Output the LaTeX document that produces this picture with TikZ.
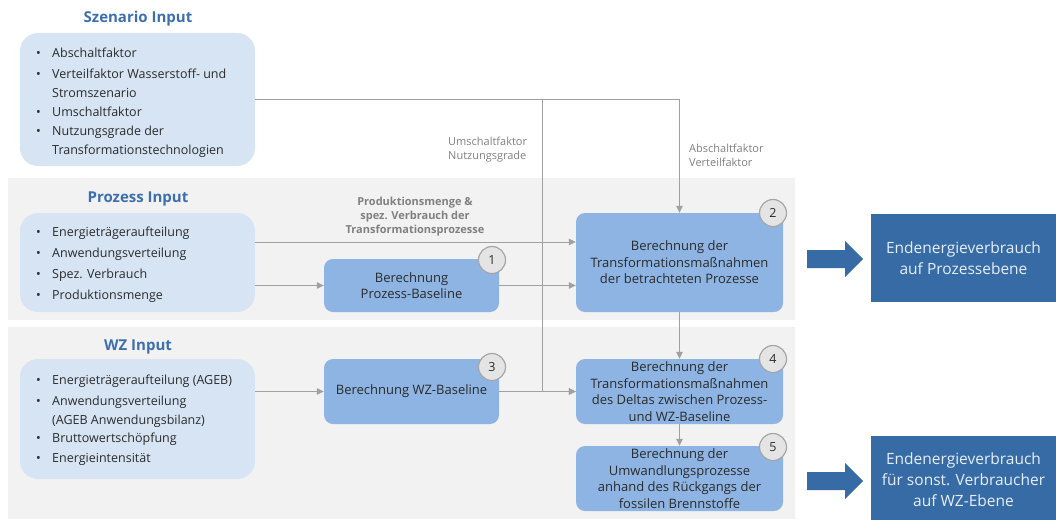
\documentclass[tikz,border=0pt]{standalone}
\usepackage{fontspec}
\setmainfont{Open Sans}
\usetikzlibrary{arrows.meta}
\definecolor{band}{HTML}{F2F2F2}
\definecolor{inbox}{HTML}{D6E4F4}
\definecolor{calc}{HTML}{8DB4E2}
\definecolor{outbox}{HTML}{376BA6}
\definecolor{titlec}{HTML}{3B6FAE}
\definecolor{conn}{HTML}{A0A0A0}
\definecolor{lbl}{HTML}{808080}
\definecolor{txt}{HTML}{2B2B2B}
\definecolor{circf}{HTML}{E4E4E4}
\definecolor{circd}{HTML}{A6A6A6}
\definecolor{outtxt}{HTML}{E6EEF8}
\newcommand\bul[1]{\makebox[16pt][l]{\textbullet}\parbox[t]{200pt}{#1}}
\begin{document}
\begin{tikzpicture}[x=1pt,y=-1pt,
  inputbox/.style={fill=inbox,rounded corners=18pt,inner sep=0pt},
  calcbox/.style={fill=calc,rounded corners=9pt,inner sep=0pt,align=center,text=txt,
     font=\fontsize{13}{16.5}\selectfont},
  outnode/.style={fill=outbox,inner sep=0pt,align=center,text=outtxt,
     font=\fontsize{15.5}{21}\selectfont},
  numc/.style={circle,fill=circf,draw=circd,line width=1.2pt,minimum size=27pt,inner sep=0pt,
     text=txt,font=\fontsize{12.5}{14}\selectfont},
  grouptitle/.style={text=titlec,font=\fontsize{15}{18}\selectfont\bfseries},
  item/.style={anchor=base west,inner sep=0pt,align=left,text=txt,
     font=\fontsize{12.5}{19}\selectfont},
  lab/.style={inner sep=0pt,text=lbl,font=\fontsize{11}{14}\selectfont},
  conn/.style={draw=conn,line width=1pt,-{Triangle[length=7pt,width=6.5pt]}},
  bigarrow/.style={fill=outbox}]
\useasboundingbox (0,0) rectangle (1056,519);
% bands
\fill[band] (8,178) rectangle (795,320);
\fill[band] (8,327) rectangle (795,519);
% input boxes
\node[inputbox,minimum width=235pt,minimum height=133pt] (szbox) at (137.5,99.5) {};
\node[inputbox,minimum width=235pt,minimum height=99pt] (prbox) at (137.5,262.5) {};
\node[inputbox,minimum width=235pt,minimum height=120pt] (wzbox) at (137.5,419) {};
% titles
\node[grouptitle] (szt) at (138,18.5) {Szenario Input};
\node[grouptitle] (prt) at (138,198.5) {Prozess Input};
\node[grouptitle] (wzt) at (138,346.5) {WZ Input};
% items
\node[item] (sz1) at (36,57) {\bul{Abschaltfaktor}};
\node[item] (sz2) at (36,78) {\bul{Verteilfaktor Wasserstoff- und\\Stromszenario}};
\node[item] (sz3) at (36,116) {\bul{Umschaltfaktor}};
\node[item] (sz4) at (36,135) {\bul{Nutzungsgrade der\\Transformationstechnologien}};
\node[item] (pr1) at (36,236) {\bul{Energieträgeraufteilung}};
\node[item] (pr2) at (36,257) {\bul{Anwendungsverteilung}};
\node[item] (pr3) at (36,278) {\bul{Spez. Verbrauch}};
\node[item] (pr4) at (36,299) {\bul{Produktionsmenge}};
\node[item] (wz1) at (36,384) {\bul{Energieträgeraufteilung (AGEB)}};
\node[item] (wz2) at (36,405) {\bul{Anwendungsverteilung\\(AGEB Anwendungsbilanz)}};
\node[item] (wz3) at (36,442) {\bul{Bruttowertschöpfung}};
\node[item] (wz4) at (36,462) {\bul{Energieintensität}};
% calculation boxes
\node[calcbox,minimum width=175pt,minimum height=53pt] (box1) at (411.5,285.5) {Berechnung\\Prozess-Baseline};
\node[calcbox,minimum width=207pt,minimum height=99pt] (box2) at (679.5,262.5) {Berechnung der\\Transformationsmaßnahmen\\der betrachteten Prozesse};
\node[calcbox,minimum width=175pt,minimum height=65pt] (box3) at (411.5,391.5) {Berechnung WZ-Baseline};
\node[calcbox,minimum width=207pt,minimum height=65pt] (box4) at (679.5,391.5) {Berechnung der\\Transformationsmaßnahmen\\des Deltas zwischen Prozess-\\und WZ-Baseline};
\node[calcbox,minimum width=207pt,minimum height=65pt] (box5) at (679.5,478.5) {Berechnung der\\Umwandlungsprozesse\\anhand des Rückgangs der\\fossilen Brennstoffe};
% number circles
\node[numc] (c1) at (492,260) {1};
\node[numc] (c2) at (773,213) {2};
\node[numc] (c3) at (492,367) {3};
\node[numc] (c4) at (773,359) {4};
\node[numc] (c5) at (773,447) {5};
% outputs
\node[outnode,minimum width=185pt,minimum height=88pt] (outA) at (963.5,258) {Endenergieverbrauch\\auf Prozessebene};
\node[outnode,minimum width=185pt,minimum height=88pt] (outB) at (963.5,480) {Endenergieverbrauch\\für sonst. Verbraucher\\auf WZ-Ebene};
\fill[bigarrow] (807,250) -- (845,250) -- (845,241) -- (863,259) -- (845,277) -- (845,268) -- (807,268) -- cycle;
\fill[bigarrow] (807,472) -- (845,472) -- (845,463) -- (863,481) -- (845,499) -- (845,490) -- (807,490) -- cycle;
% labels
\node[lab,align=left,anchor=west] (l1) at (448,150) {Umschaltfaktor\\Nutzungsgrade};
\node[lab,align=left,anchor=west] (l2) at (689,155) {Abschaltfaktor\\Verteilfaktor};
\node[lab,align=center,font=\fontsize{11}{14}\selectfont\bfseries] (l3) at (415,217) {Produktionsmenge \&\\spez. Verbrauch der\\Transformationsprozesse};
% connectors
\coordinate (y242) at (0,242);
\coordinate (br) at (542,99.5);
\draw[conn] (szbox.east) -| (box2.north);
\draw[conn] (br) |- (box4.west);
\draw[conn] (prbox.east |- y242) -- (box2.west |- y242);
\draw[conn] (prbox.east |- box1.west) -- (box1.west);
\draw[conn] (box1.east) -- (box2.west |- box1.east);
\draw[conn] (wzbox.east |- box3.west) -- (box3.west);
\draw[conn] (box3.east) -- (box4.west);
\draw[conn] (box2.south) -- (box4.north);
\draw[conn] (box4.south) -- (box5.north);
\end{tikzpicture}
\end{document}
